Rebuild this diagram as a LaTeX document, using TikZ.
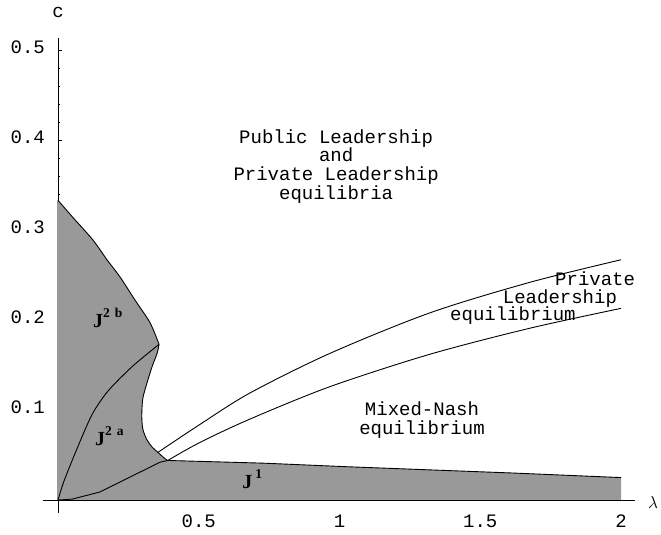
\documentclass[tikz,border=0pt]{standalone}
\usepackage{fontspec}
\newfontfamily\plotfont{Liberation Mono}
\newfontfamily\regionfont{Liberation Serif}
\definecolor{regiongray}{RGB}{153,153,153}

\begin{document}
\begin{tikzpicture}[
		x=281.5pt, y=900pt,
		every node/.style={inner sep=0pt},
		curve/.style={black, line width=0.9pt},
		ticklabel/.style={font=\plotfont\fontsize{19}{19}\selectfont},
		regiontext/.style={font=\plotfont\fontsize{19}{18.7}\selectfont, align=center},
		regionname/.style={font=\regionfont\bfseries\fontsize{20}{20}\selectfont, anchor=base west}
	]
	\useasboundingbox (-0.206,-0.0378) rectangle (2.142,0.5556);

	% Vertical axis with ticks
	\draw[curve] (0,-0.0144) -- (0,0.513);
	\foreach \c in {0.02,0.04,...,0.5}
	\draw[curve] (0,\c) -- ++(2.5pt,0);
	\foreach \c/\num in {0.1/1,0.2/2,0.3/3,0.4/4,0.5/5}{
			\draw[curve] (0,\c) -- ++(4.5pt,0);
			\node[ticklabel, anchor=east] (ylab\num) at (-0.046,\c+0.003) {\c};
		}
	\node[ticklabel] (clab) at (0,0.542) {c};

	% Shaded region J1, J2a, J2b
	\fill[regiongray] (-0.003,0.333)
	-- plot[smooth] coordinates {(0,0.333) (0.053,0.314) (0.124,0.289) (0.174,0.267) (0.220,0.248) (0.274,0.222) (0.327,0.197) (0.359,0.173)}
	-- plot[smooth] coordinates {(0.359,0.173) (0.352,0.163) (0.334,0.148) (0.316,0.130) (0.302,0.114) (0.298,0.100) (0.298,0.089) (0.302,0.078) (0.316,0.067) (0.334,0.059) (0.355,0.053) (0.380,0.046) (0.39,0.044)}
	-- (0.73,0.041) -- (1.03,0.037) -- (1.62,0.030) -- (2,0.025) -- (2,0) -- (-0.003,0) -- cycle;

	% Boundaries of the shaded region
	\draw[curve] plot[smooth] coordinates {(0,0.333) (0.053,0.314) (0.124,0.289) (0.174,0.267) (0.220,0.248) (0.274,0.222) (0.327,0.197) (0.359,0.173)};
	\draw[curve] plot[smooth] coordinates {(0.359,0.173) (0.352,0.163) (0.334,0.148) (0.316,0.130) (0.302,0.114) (0.298,0.100) (0.298,0.089) (0.302,0.078) (0.316,0.067) (0.334,0.059) (0.355,0.053) (0.380,0.046) (0.39,0.044)};
	\draw[curve] (0.39,0.044) -- (0.73,0.041) -- (1.03,0.037) -- (1.62,0.030) -- (2,0.025);
	\draw[curve] plot[smooth] coordinates {(0,0) (0.02,0.02) (0.053,0.046) (0.1,0.081) (0.13,0.1) (0.18,0.122) (0.266,0.149) (0.359,0.173)};
	\draw[curve] (0,0) -- (0.05,0.001) -- (0.149,0.009) -- (0.362,0.042) -- (0.39,0.044);

	% Horizontal axis
	\draw[curve] (-0.053,0) -- (2.05,0);
	\foreach \x in {0.5,1,1.5,2}
	\node[ticklabel] (xlab\x) at (\x,-0.0233) {\x};
	\node[font=\fontsize{16}{16}\selectfont] (lamlab) at (2.114,-0.003) {$\lambda$};

	% Private Leadership band
	\draw[curve] plot[smooth] coordinates {(0.355,0.053) (0.504,0.084) (0.682,0.119) (0.966,0.163) (1.321,0.208) (1.677,0.242) (2,0.267)};
	\draw[curve] plot[smooth] coordinates {(0.39,0.044) (0.504,0.064) (0.682,0.090) (0.966,0.126) (1.321,0.162) (1.677,0.191) (2,0.213)};

	% Region texts
	\node[regiontext] (pubpriv) at (0.988,0.371) {Public Leadership\\and\\Private Leadership\\equilibria};
	\node[regiontext] (mixed) at (1.293,0.0889) {Mixed-Nash\\equilibrium};
	\node[regiontext] (privA) at (1.908,0.2460) {Private};
	\node[regiontext] (privB) at (1.783,0.2244) {Leadership};
	\node[regiontext] (privC) at (1.616,0.2050) {equilibrium};

	% Region names
	\node[regionname] (jtwob) at (0.124,0.192) {J\raisebox{9.5pt}{\fontsize{13.5}{13.5}\selectfont 2\hspace{5pt}b}};
	\node[regionname] (jtwoa) at (0.131,0.061) {J\raisebox{9.5pt}{\fontsize{13.5}{13.5}\selectfont 2\hspace{5pt}a}};
	\node[regionname] (jone) at (0.654,0.0133) {J\hspace{3pt}\raisebox{9.5pt}{\fontsize{13.5}{13.5}\selectfont 1}};

\end{tikzpicture}
\end{document}
